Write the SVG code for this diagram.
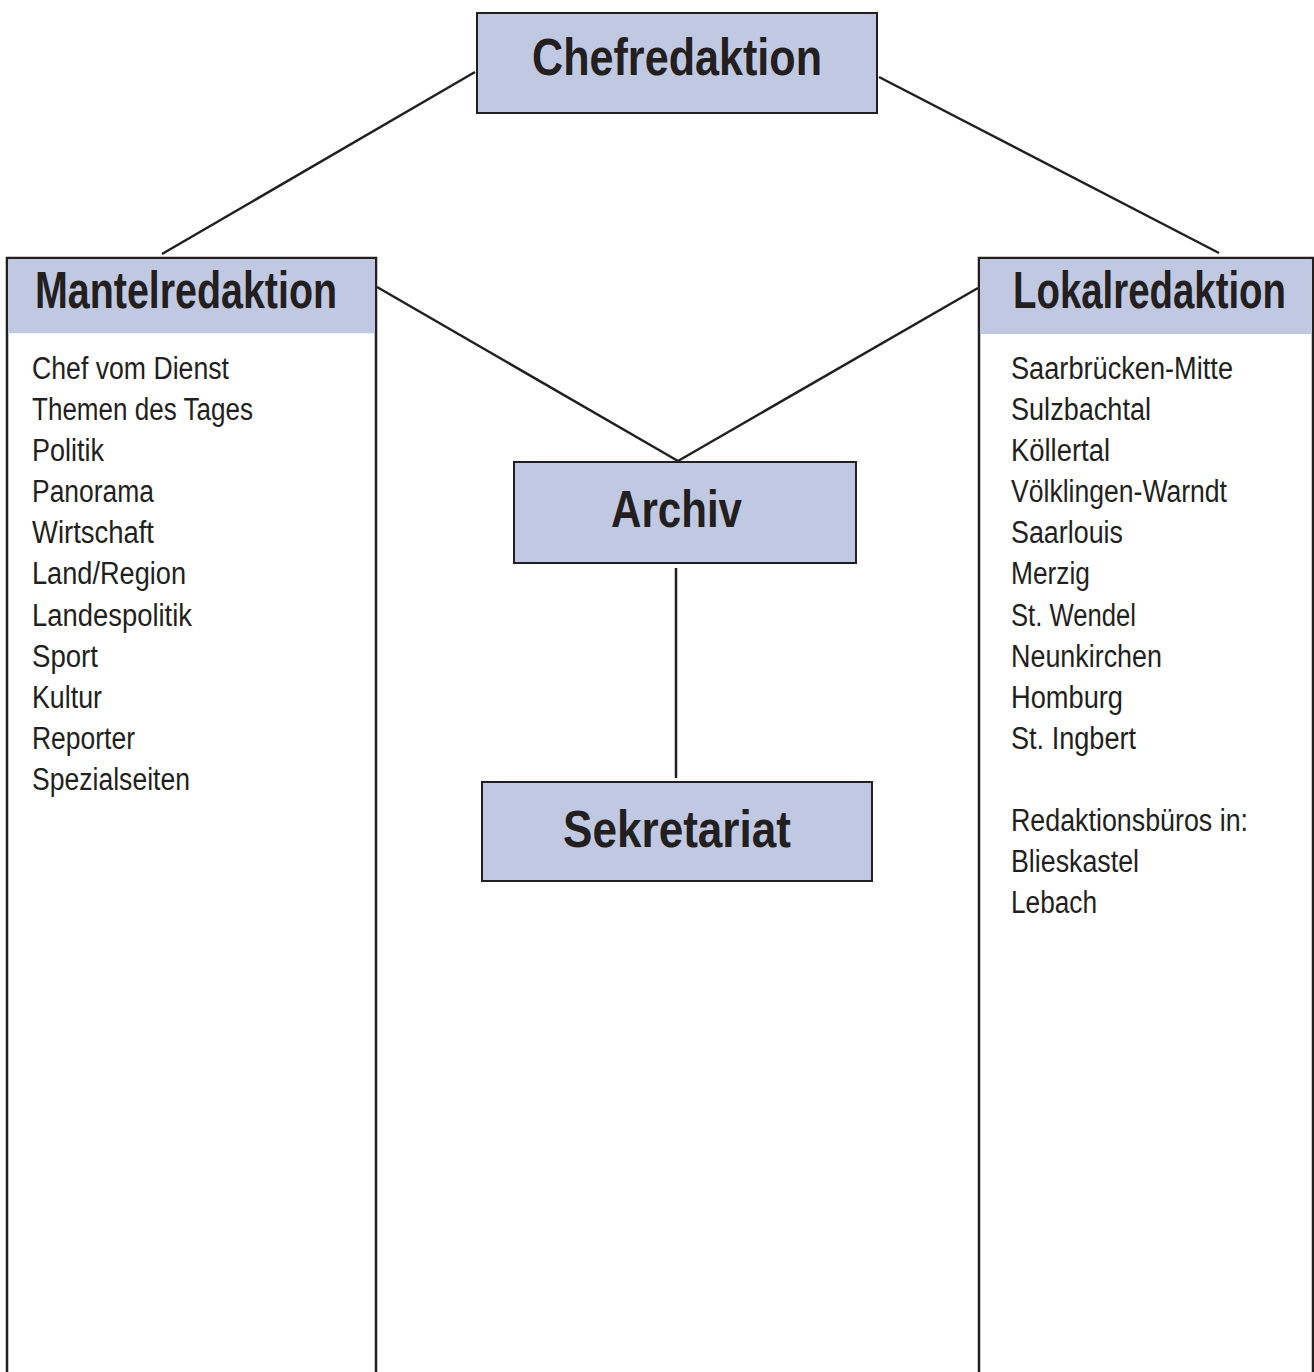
<svg xmlns="http://www.w3.org/2000/svg" width="1314" height="1372" viewBox="0 0 1314 1372">
<style>
.box{fill:#c1c9e2;stroke:#231f20;stroke-width:2}
.panel{fill:#ffffff;stroke:#231f20;stroke-width:2.5}
.hdr{fill:#c1c9e2}
.conn{stroke:#231f20;stroke-width:2.5;fill:none}
.h{font-family:"Liberation Sans",Arial,sans-serif;font-weight:bold;font-size:52px;fill:#231f20}
.t{font-family:"Liberation Sans",Arial,sans-serif;font-size:31px;fill:#231f20}
</style>
<rect width="1314" height="1372" fill="#ffffff"/>
<g id="connectors">
<line class="conn" x1="475" y1="72" x2="162" y2="254"/>
<line class="conn" x1="879" y1="77" x2="1219" y2="253"/>
<line class="conn" x1="377" y1="287" x2="678" y2="461"/>
<line class="conn" x1="978" y1="288" x2="678" y2="461"/>
<line class="conn" x1="676" y1="568" x2="676" y2="778"/>
</g>
<g id="chefredaktion">
<rect class="box" x="477" y="13" width="400" height="100"/>
<text class="h" x="532" y="75" textLength="290" lengthAdjust="spacingAndGlyphs">Chefredaktion</text>
</g>
<g id="mantelredaktion">
<rect class="panel" x="7" y="258" width="369" height="1130"/>
<rect class="hdr" x="8.3" y="259.3" width="366.4" height="74"/>
<text class="h" x="35" y="308" textLength="302" lengthAdjust="spacingAndGlyphs">Mantelredaktion</text>
<text class="t" x="32" y="379" textLength="197" lengthAdjust="spacingAndGlyphs">Chef vom Dienst</text>
<text class="t" x="32" y="420" textLength="221" lengthAdjust="spacingAndGlyphs">Themen des Tages</text>
<text class="t" x="32" y="461" textLength="72" lengthAdjust="spacingAndGlyphs">Politik</text>
<text class="t" x="32" y="502" textLength="122" lengthAdjust="spacingAndGlyphs">Panorama</text>
<text class="t" x="32" y="543" textLength="122" lengthAdjust="spacingAndGlyphs">Wirtschaft</text>
<text class="t" x="32" y="584" textLength="154" lengthAdjust="spacingAndGlyphs">Land/Region</text>
<text class="t" x="32" y="626" textLength="160" lengthAdjust="spacingAndGlyphs">Landespolitik</text>
<text class="t" x="32" y="667" textLength="66" lengthAdjust="spacingAndGlyphs">Sport</text>
<text class="t" x="32" y="708" textLength="70" lengthAdjust="spacingAndGlyphs">Kultur</text>
<text class="t" x="32" y="749" textLength="103" lengthAdjust="spacingAndGlyphs">Reporter</text>
<text class="t" x="32" y="790" textLength="158" lengthAdjust="spacingAndGlyphs">Spezialseiten</text>
</g>
<g id="lokalredaktion">
<rect class="panel" x="979" y="258" width="334" height="1130"/>
<rect class="hdr" x="980.3" y="259.3" width="331.4" height="74.7"/>
<text class="h" x="1013" y="308" textLength="273" lengthAdjust="spacingAndGlyphs">Lokalredaktion</text>
<text class="t" x="1011" y="379" textLength="222" lengthAdjust="spacingAndGlyphs">Saarbrücken-Mitte</text>
<text class="t" x="1011" y="420" textLength="140" lengthAdjust="spacingAndGlyphs">Sulzbachtal</text>
<text class="t" x="1011" y="461" textLength="99" lengthAdjust="spacingAndGlyphs">Köllertal</text>
<text class="t" x="1011" y="502" textLength="216" lengthAdjust="spacingAndGlyphs">Völklingen-Warndt</text>
<text class="t" x="1011" y="543" textLength="112" lengthAdjust="spacingAndGlyphs">Saarlouis</text>
<text class="t" x="1011" y="584" textLength="79" lengthAdjust="spacingAndGlyphs">Merzig</text>
<text class="t" x="1011" y="626" textLength="125" lengthAdjust="spacingAndGlyphs">St. Wendel</text>
<text class="t" x="1011" y="667" textLength="151" lengthAdjust="spacingAndGlyphs">Neunkirchen</text>
<text class="t" x="1011" y="708" textLength="112" lengthAdjust="spacingAndGlyphs">Homburg</text>
<text class="t" x="1011" y="749" textLength="125" lengthAdjust="spacingAndGlyphs">St. Ingbert</text>
<text class="t" x="1011" y="831" textLength="237" lengthAdjust="spacingAndGlyphs">Redaktionsbüros in:</text>
<text class="t" x="1011" y="872" textLength="128" lengthAdjust="spacingAndGlyphs">Blieskastel</text>
<text class="t" x="1011" y="913" textLength="86" lengthAdjust="spacingAndGlyphs">Lebach</text>
</g>
<g id="archiv">
<rect class="box" x="514" y="462" width="342" height="101"/>
<text class="h" x="611" y="527" textLength="131" lengthAdjust="spacingAndGlyphs">Archiv</text>
</g>
<g id="sekretariat">
<rect class="box" x="482" y="782" width="390" height="99"/>
<text class="h" x="563" y="847" textLength="228" lengthAdjust="spacingAndGlyphs">Sekretariat</text>
</g>
</svg>
